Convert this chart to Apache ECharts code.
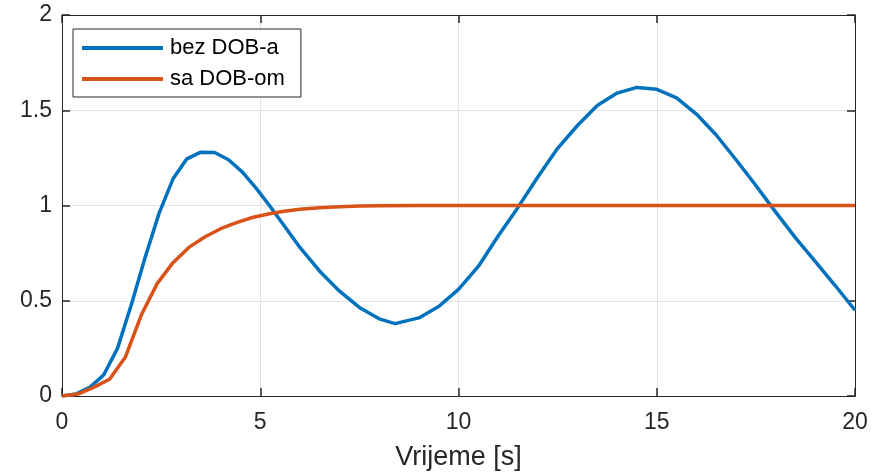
<!DOCTYPE html>
<html>
<head>
<meta charset="utf-8">
<script src="https://cdn.jsdelivr.net/npm/echarts@6/dist/echarts.min.js"></script>
<style>
  html, body { margin: 0; padding: 0; background: #fff; }
  #main { width: 883px; height: 473px; }
</style>
</head>
<body>
<div id="main"></div>
<script>
// vrijeme i odziv bez DOB-a
var tBez = [0, 0.35, 0.7, 1.05, 1.4, 1.75, 2.1, 2.45, 2.8, 3.15, 3.5, 3.85, 4.2, 4.55, 4.9, 5.25, 5.6,
  6.0, 6.5, 7.0, 7.5, 8.0, 8.4, 9.0, 9.5, 10.0, 10.5, 11.0, 11.5, 12.0, 12.5, 13.0, 13.5, 14.0, 14.5,
  15.0, 15.5, 16.0, 16.5, 17.0, 17.5, 18.0, 18.5, 19.0, 19.5, 20.0];
var yBez = [0, 0.01, 0.045, 0.11, 0.25, 0.48, 0.73, 0.96, 1.14, 1.245, 1.28, 1.278, 1.24, 1.175, 1.09, 0.995, 0.895,
  0.78, 0.655, 0.55, 0.465, 0.405, 0.38, 0.41, 0.47, 0.56, 0.68, 0.84, 0.99, 1.15, 1.3, 1.42, 1.525, 1.59, 1.62,
  1.61, 1.565, 1.48, 1.37, 1.24, 1.105, 0.965, 0.83, 0.705, 0.58, 0.45];

// vrijeme i odziv sa DOB-om
var tSa = [0, 0.4, 0.8, 1.2, 1.6, 2.0, 2.4, 2.8, 3.2, 3.6, 4.0, 4.4, 4.8, 5.2, 5.6, 6.0, 6.5, 7.0, 7.5, 8.0,
  9, 10, 11, 12, 13, 14, 15, 16, 17, 18, 19, 20];
var ySa = [0, 0.01, 0.045, 0.088, 0.205, 0.425, 0.59, 0.70, 0.78, 0.835, 0.878, 0.91, 0.937, 0.955, 0.97, 0.98, 0.988, 0.994, 0.997, 0.999,
  1, 1, 1, 1, 1, 1, 1, 1, 1, 1, 1, 1];

var names = ['bez DOB-a', 'sa DOB-om'];

function pairs(t, y) {
  var out = [];
  for (var i = 0; i < t.length; i++) out.push([t[i], y[i]]);
  return out;
}

var axCol = '#262626';
var font = 'Liberation Sans';

function tickStyle() {
  return { show: true, inside: true, length: 8, lineStyle: { color: axCol, width: 1.5 } };
}

var myChart = echarts.init(document.getElementById('main'));
var option = {
  animation: false,
  grid: { left: 62, right: 28, top: 15, bottom: 77, outerBoundsMode: 'none', containLabel: false },
  legend: {
    left: 73, top: 29,
    orient: 'vertical',
    data: names.map(function (n) { return { name: n, icon: 'rect' }; }),
    itemWidth: 81, itemHeight: 4, itemGap: 9,
    padding: [8, 16, 7, 9],
    borderColor: axCol, borderWidth: 1,
    backgroundColor: '#fff',
    textStyle: { fontFamily: font, fontSize: 22, color: '#000', padding: [0, 0, 0, 2] }
  },
  xAxis: [{
    type: 'value', min: 0, max: 20, interval: 5,
    name: 'Vrijeme [s]', nameLocation: 'middle', nameGap: 48,
    nameTextStyle: { fontFamily: font, fontSize: 27, color: '#262626' },
    axisLine: { show: true, onZero: false, lineStyle: { color: axCol, width: 1 } },
    axisTick: tickStyle(),
    axisLabel: { fontFamily: font, fontSize: 23, color: '#262626', margin: 15 },
    splitLine: { show: true, lineStyle: { color: '#e3e3e3', width: 1 } }
  }, {
    type: 'value', min: 0, max: 20, interval: 5, position: 'top',
    axisLine: { show: true, onZero: false, lineStyle: { color: axCol, width: 1 } },
    axisTick: tickStyle(),
    axisLabel: { show: false },
    splitLine: { show: false }
  }],
  yAxis: [{
    type: 'value', min: 0, max: 2, interval: 0.5,
    axisLine: { show: true, onZero: false, lineStyle: { color: axCol, width: 1 } },
    axisTick: tickStyle(),
    axisLabel: { fontFamily: font, fontSize: 23, color: '#262626', margin: 10 },
    splitLine: { show: true, lineStyle: { color: '#e3e3e3', width: 1 } }
  }, {
    type: 'value', min: 0, max: 2, interval: 0.5, position: 'right',
    axisLine: { show: true, onZero: false, lineStyle: { color: axCol, width: 1 } },
    axisTick: tickStyle(),
    axisLabel: { show: false },
    splitLine: { show: false }
  }],
  series: [{
    name: names[0], type: 'line', showSymbol: false, symbol: 'none',
    data: pairs(tBez, yBez),
    itemStyle: { color: '#0072BD' },
    lineStyle: { color: '#0072BD', width: 3.5 },
    z: 3
  }, {
    name: names[1], type: 'line', showSymbol: false, symbol: 'none',
    data: pairs(tSa, ySa),
    itemStyle: { color: '#D95319' },
    lineStyle: { color: '#D95319', width: 3.5 },
    z: 4
  }]
};
myChart.setOption(option);
</script>
</body>
</html>
